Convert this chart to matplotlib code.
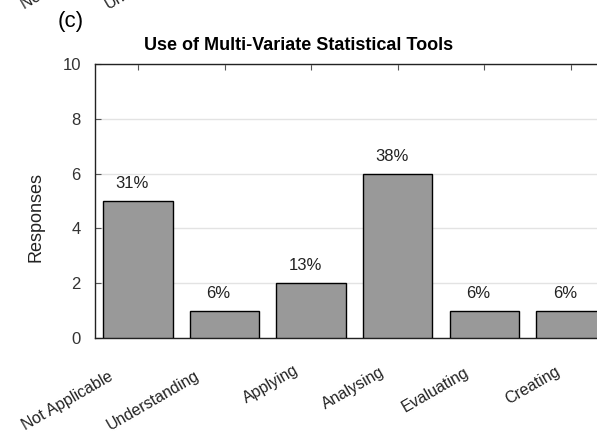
import matplotlib
matplotlib.use("Agg")
import matplotlib.pyplot as plt
import matplotlib.transforms as mtransforms

plt.rcParams['font.family'] = ['Liberation Sans', 'DejaVu Sans']

categories = ["Not Applicable", "Understanding", "Applying", "Analysing", "Evaluating", "Creating"]
responses = [5, 1, 2, 6, 1, 1]
percent_labels = ["31%", "6%", "13%", "38%", "6%", "6%"]
yticks = [0, 2, 4, 6, 8, 10]
prev_panel_labels = ["Not Applicable", "Understanding"]

# per-label nudges of the rotated x tick labels (pixels, right / down)
label_dx = [-30, -30, -17, -18, -20, -16]
label_dy = [4, 4, -2, 0, 0, -1]

W, H = 597, 433
fig = plt.figure(figsize=(W / 100, H / 100), dpi=100)
left, right, top, bottom = 94.7, 614, 64, 338
ax = fig.add_axes([left / W, 1 - bottom / H, (right - left) / W, (bottom - top) / H])

x = list(range(len(categories)))
ax.bar(x, responses, width=0.8, color='#999999', edgecolor='black', linewidth=1.0, zorder=3)
for xi, v, lab in zip(x, responses, percent_labels):
    ax.annotate(lab, (xi, v), xytext=(-4.3, 9.4), textcoords='offset points',
                ha='center', va='baseline', fontsize=12, color='#222222')

ax.set_xlim(-0.5, 5.5)
ax.set_ylim(0, 10)
ax.set_yticks(yticks)
ax.set_yticklabels([str(t) for t in yticks], fontsize=12, color='#333333')
ax.yaxis.grid(True, color='#e3e3e3', linewidth=1.0, zorder=0)
ax.set_xticks(x)
ax.set_xticklabels(categories, rotation=30, ha='right', va='top', rotation_mode='anchor',
                   fontsize=11.5, color='#222222')
ax.tick_params(axis='x', direction='in', length=4, top=True, color='#555555', pad=19)
ax.tick_params(axis='y', direction='in', length=4, right=True, color='#555555', pad=10)
for lbl, dx, dy in zip(ax.get_xticklabels(), label_dx, label_dy):
    shift = mtransforms.ScaledTranslation(dx / 100, -dy / 100, fig.dpi_scale_trans)
    lbl.set_transform(lbl.get_transform() + shift)
for s in ax.spines.values():
    s.set_linewidth(1.0)
    s.set_color('#222222')
ax.set_ylabel('Responses', fontsize=13, color='#222222', va='center')
ax.yaxis.set_label_coords(36 / W, 1 - 217 / H, transform=fig.transFigure)

fig.text(299 / W, 1 - 46 / H, 'Use of Multi-Variate Statistical Tools', ha='center', va='center',
         fontsize=13, fontweight='bold')
fig.text(71 / W, 1 - 22 / H, '(c)', ha='center', va='center', fontsize=16)

# remnants of the previous panel's tick labels, clipped at the top edge
for xs, ys, lab in zip([24, 108], [9, 9], prev_panel_labels):
    fig.text(xs / W, 1 - ys / H, lab, ha='left', va='baseline', rotation=30,
             rotation_mode='anchor', fontsize=11.5, color='#222222')

fig.savefig('out.png', dpi=100)
